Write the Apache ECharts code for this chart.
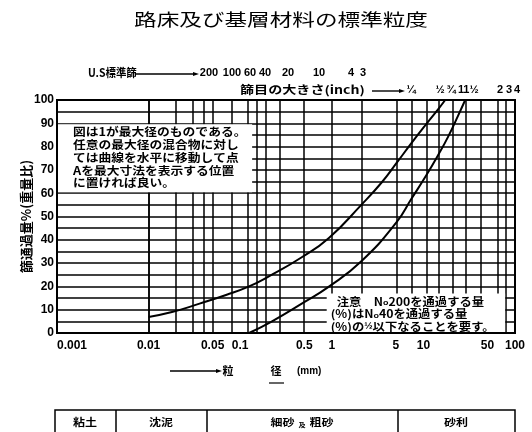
<!DOCTYPE html>
<html>
<head>
<meta charset="utf-8">
<script src="https://cdn.jsdelivr.net/npm/echarts@6/dist/echarts.min.js"></script>
<style>
html,body{margin:0;padding:0;background:#fff}
#c{width:532px;height:432px}
</style>
</head>
<body>
<div id="c"></div>
<script>
// 粒径加積曲線（上限・下限）
const chartTitle = '路床及び基層材料の標準粒度';
const yAxisName = '篩通過量%(重量比)';
const xTickValues = [0.001, 0.01, 0.05, 0.1, 0.5, 1, 5, 10, 50, 100];
const gridLinesMm = [0.005, 0.01, 0.02, 0.03, 0.04, 0.05, 0.08, 0.12, 0.15, 0.19, 0.27, 0.5, 1, 2.1, 5.1, 7.4, 10.8, 14.6, 21, 29, 42, 65, 80];

const upperSize = [0.01, 0.018, 0.036, 0.07, 0.125, 0.21, 0.47, 0.93, 2.1, 3.5, 5.1, 7.4, 10.8, 14.6, 17.3];
const upperPass = [6.9, 9, 12.6, 16.3, 20, 24.5, 32.5, 40.8, 55, 64.6, 73, 81.5, 89.8, 96.2, 100];
const lowerSize = [0.125, 0.22, 0.47, 0.93, 2.1, 5.1, 7.4, 10.8, 14.6, 18.7, 24, 28.6];
const lowerPass = [0, 4.9, 12.6, 19.9, 30.8, 47.6, 57.6, 67.8, 76.6, 84.4, 93.4, 100];

const sieveNumbers = ['200', '100', '60', '40', '20', '10', '4', '3'];
const inchSizes = ['¼', '½', '¾', '1', '1½', '2', '3', '4'];
const noteMaxSize = [
  '図は1が最大径のものである。',
  '任意の最大径の混合物に対し',
  'ては曲線を水平に移動して点',
  'Aを最大寸法を表示する位置',
  'に置ければ良い。'
];
const noteNo200 = [
  '注意　{s|N}{o|o}{s|200を通過する量}',
  '{s|(%)はN}{o|o}{s|40を通過する量}',
  '{s|(%)の}{f|½}{s|以下なることを要す。}'
];
const soilClasses = ['粘土', '沈泥', '細砂', '及', '粗砂', '砂利'];

const CJK = '"Noto Sans CJK JP"';
const NUM = '"Liberation Sans Narrow", "Liberation Sans", sans-serif';

const chart = echarts.init(document.getElementById('c'), null, { renderer: 'canvas' });

const option = {
  animation: false,
  backgroundColor: '#fff',
  grid: {
    left: 57, right: 17, top: 100, bottom: 99,
    show: true, borderColor: '#000', borderWidth: 2, backgroundColor: 'transparent'
  },
  xAxis: {
    type: 'log', logBase: 10, min: 0.001, max: 100,
    axisLine: { show: false }, axisTick: { show: false },
    splitLine: { show: false },
    axisLabel: {
      customValues: xTickValues,
      formatter: v => String(parseFloat(Number(v).toPrecision(3))),
      color: '#000', fontFamily: NUM, fontWeight: 'bold', fontSize: 12, margin: 7,
      alignMinLabel: 'left'
    }
  },
  yAxis: {
    type: 'value', min: 0, max: 100, interval: 5,
    name: yAxisName, nameLocation: 'middle', nameGap: 24, nameRotate: 90,
    nameMoveOverlap: false,
    nameTextStyle: { color: '#000', fontFamily: CJK, fontWeight: 'bold', fontSize: 13 },
    axisLine: { show: false }, axisTick: { show: false },
    splitLine: { lineStyle: { color: '#000', width: 1.5 } },
    axisLabel: {
      formatter: v => (v % 10 === 0 ? String(v) : ''),
      color: '#000', fontFamily: NUM, fontWeight: 'bold', fontSize: 12, margin: 3
    }
  },
  series: [
    {
      type: 'line', name: 'grid', data: [], silent: true,
      markLine: {
        silent: true, symbol: 'none', animation: false,
        label: { show: false },
        lineStyle: { color: '#000', width: 1.5, type: 'solid' },
        data: gridLinesMm.map(v => ({ xAxis: v }))
      }
    },
    {
      type: 'line', name: '上限', smooth: 0.5, showSymbol: false,
      lineStyle: { color: '#000', width: 2 },
      data: upperSize.map((d, i) => [d, upperPass[i]])
    },
    {
      type: 'line', name: '下限', smooth: 0.5, showSymbol: false,
      lineStyle: { color: '#000', width: 2 },
      data: lowerSize.map((d, i) => [d, lowerPass[i]])
    }
  ]
};
chart.setOption(option);

// 注記枠はデータ座標から位置を決める
const px = (x, y) => chart.convertToPixel({ gridIndex: 0 }, [x, y]);
const boxA0 = px(0.001, 90), boxA1 = px(0.135, 60);
const boxB0 = px(0.88, 17), boxB1 = px(78, 0);

function txt(x, y, text, opts) {
  return Object.assign({
    type: 'text', x: x, y: y, z: 20,
    style: Object.assign({
      text: text, fill: '#000', fontFamily: CJK, fontWeight: 'bold', fontSize: 11,
      align: 'left', verticalAlign: 'middle'
    }, opts && opts.style)
  }, opts && opts.el);
}
function arrow(x1, x2, y) {
  return [
    { type: 'line', z: 20, shape: { x1: x1, y1: y, x2: x2, y2: y }, style: { stroke: '#000', lineWidth: 1.4 } },
    { type: 'polygon', z: 20, shape: { points: [[x2 + 3, y], [x2 - 3, y - 2], [x2 - 3, y + 2]] }, style: { fill: '#000' } }
  ];
}

const graphics = [];
// 表題
graphics.push(txt(281, 20, chartTitle, { style: { fontSize: 17, fontWeight: 'normal', align: 'center' }, el: { scaleX: 1.33 } }));
// U.S 標準篩
graphics.push(txt(88, 73, 'U.S標準篩', { style: { fontSize: 11 }, el: { scaleX: 0.95 } }));
graphics.push(...arrow(136, 196, 74));
const sieveX = [209, 232, 250, 265, 288, 319, 351, 363];
sieveNumbers.forEach((s, i) => graphics.push(txt(sieveX[i], 73, s, { style: { fontFamily: '"Liberation Sans", sans-serif', fontSize: 11, align: 'center' } })));
// 篩目の大きさ
graphics.push(txt(240, 90, '篩目の大きさ(inch)', { style: { fontSize: 11 }, el: { scaleX: 1.28 } }));
graphics.push(...arrow(372, 402, 91));
const inchX = [411, 440, 451, 461, 471, 500, 509, 517];
inchSizes.forEach((s, i) => graphics.push(txt(inchX[i], 90, s, { style: { fontFamily: NUM, fontSize: 11, align: 'center' } })));

// 注記枠（左上）
graphics.push({
  type: 'rect', z: 15,
  shape: { x: boxA0[0] + 1, y: boxA0[1] + 1, width: boxA1[0] - boxA0[0] - 1, height: boxA1[1] - boxA0[1] - 2 },
  style: { fill: '#fff' }
});
noteMaxSize.forEach((line, i) => graphics.push(txt(boxA0[0] + 16, boxA0[1] + 9 + i * 12.7, line, { style: { fontSize: 11 }, el: { scaleX: 1.16 } })));

// 注記枠（右下）
graphics.push({
  type: 'rect', z: 15,
  shape: { x: boxB0[0], y: boxB0[1], width: boxB1[0] - boxB0[0], height: boxB1[1] - boxB0[1] - 1 },
  style: { fill: '#fff' }
});
noteNo200.forEach((line, i) => graphics.push({
  type: 'text', x: boxB0[0] + (i === 0 ? 10 : 4), y: boxB0[1] + 8 + i * 12.5, z: 20,
  scaleX: 1.12,
  style: {
    text: line, fill: '#000', verticalAlign: 'middle', align: 'left',
    rich: {
      s: { fontFamily: CJK, fontWeight: 'bold', fontSize: 11 },
      o: { fontFamily: NUM, fontWeight: 'bold', fontSize: 8, verticalAlign: 'bottom' },
      f: { fontFamily: NUM, fontWeight: 'bold', fontSize: 9 }
    },
    fontFamily: CJK, fontWeight: 'bold', fontSize: 11
  }
}));

// 横軸名
graphics.push(...arrow(170, 219, 371));
graphics.push(txt(228, 371, '粒', { style: { fontSize: 11, align: 'center' } }));
graphics.push(txt(276, 371, '径', { style: { fontSize: 11, align: 'center' } }));
graphics.push({ type: 'line', z: 20, shape: { x1: 269, y1: 383, x2: 284, y2: 383 }, style: { stroke: '#000', lineWidth: 1.2 } });
graphics.push(txt(297, 371, '(mm)', { style: { fontFamily: NUM, fontSize: 10 } }));

// 土質区分表
graphics.push({ type: 'rect', z: 20, shape: { x: 55, y: 410, width: 460, height: 40 }, style: { fill: 'none', stroke: '#000', lineWidth: 1.5 } });
[116, 207, 398].forEach(x => graphics.push({ type: 'line', z: 20, shape: { x1: x, y1: 410, x2: x, y2: 440 }, style: { stroke: '#000', lineWidth: 1.5 } }));
graphics.push(txt(85, 422, soilClasses[0], { style: { fontSize: 10, align: 'center' }, el: { scaleX: 1.2 } }));
graphics.push(txt(161, 422, soilClasses[1], { style: { fontSize: 10, align: 'center' }, el: { scaleX: 1.2 } }));
graphics.push({
  type: 'text', x: 302, y: 422, z: 20, scaleX: 1.2,
  style: {
    text: '{a|' + soilClasses[2] + '} {b|' + soilClasses[3] + '} {a|' + soilClasses[4] + '}',
    align: 'center', verticalAlign: 'middle', fill: '#000',
    rich: {
      a: { fontFamily: CJK, fontWeight: 'bold', fontSize: 10 },
      b: { fontFamily: CJK, fontWeight: 'bold', fontSize: 6, verticalAlign: 'bottom' }
    }
  }
});
graphics.push(txt(456, 422, soilClasses[5], { style: { fontSize: 10, align: 'center' }, el: { scaleX: 1.2 } }));

chart.setOption({ graphic: graphics });
</script>
</body>
</html>
